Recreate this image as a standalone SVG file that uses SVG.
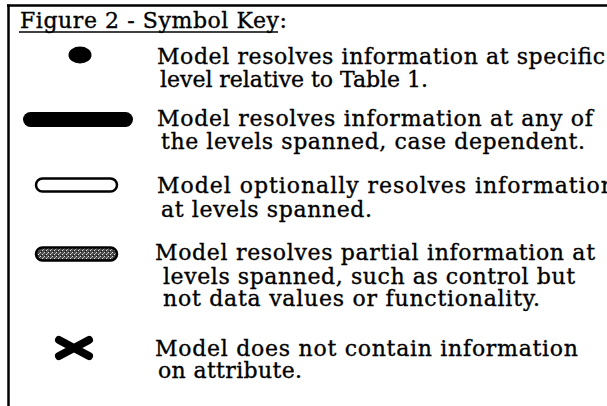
<svg xmlns="http://www.w3.org/2000/svg" width="607" height="406" viewBox="0 0 607 406">
<style>
text{font-family:"DejaVu Serif","Liberation Serif",serif;font-size:22px;fill:#000;stroke:#000;stroke-width:0.35}
.frame{stroke:#000;stroke-width:2.5;fill:none}
.pill{stroke:#000;stroke-width:2.5}
</style>
<defs>
<pattern id="hatch" width="4" height="4" patternUnits="userSpaceOnUse">
<rect width="4" height="4" fill="#4a4a4a"/>
<rect x="0" y="0" width="1" height="1" fill="#ddd"/>
<rect x="2" y="2" width="1" height="1" fill="#ddd"/>
<rect x="1" y="3" width="1" height="1" fill="#111"/>
<rect x="3" y="1" width="1" height="1" fill="#aaa"/>
</pattern>
</defs>
<rect width="607" height="406" fill="#fff"/>
<g id="frame">
<line class="frame" x1="7" y1="5.5" x2="607" y2="5.5"/>
<line class="frame" x1="8.5" y1="4.5" x2="8.5" y2="406"/>
</g>
<g id="title">
<text x="20" y="28" textLength="267">Figure 2 - Symbol Key:</text>
<line x1="19" y1="32" x2="278" y2="32" stroke="#000" stroke-width="1.3"/>
</g>
<g id="key-dot">
<ellipse cx="80" cy="55" rx="11.5" ry="8.5" fill="#000"/>
<text x="157" y="64" textLength="448">Model resolves information at specific</text>
<text x="160" y="87" textLength="268">level relative to Table 1.</text>
</g>
<g id="key-thick">
<rect x="23" y="112" width="110" height="15" rx="7.5" fill="#000"/>
<text x="157" y="126" textLength="436">Model resolves information at any of</text>
<text x="161" y="149" textLength="424">the levels spanned, case dependent.</text>
</g>
<g id="key-open">
<rect class="pill" x="36" y="178.5" width="81" height="13" rx="6.5" fill="#fff"/>
<text x="157" y="193" textLength="458">Model optionally resolves information</text>
<text x="161" y="217" textLength="211">at levels spanned.</text>
</g>
<g id="key-partial">
<rect class="pill" x="36" y="247.5" width="81" height="13" rx="6.5" fill="url(#hatch)"/>
<text x="155" y="260" textLength="440">Model resolves partial information at</text>
<text x="163" y="284" textLength="412">levels spanned, such as control but</text>
<text x="163" y="306" textLength="377">not data values or functionality.</text>
</g>
<g id="key-none">
<path d="M59 340 L89 356 M59 356 L89 340" stroke="#000" stroke-width="8" stroke-linecap="round"/>
<text x="155" y="356" textLength="423">Model does not contain information</text>
<text x="158" y="378" textLength="144">on attribute.</text>
</g>
</svg>
